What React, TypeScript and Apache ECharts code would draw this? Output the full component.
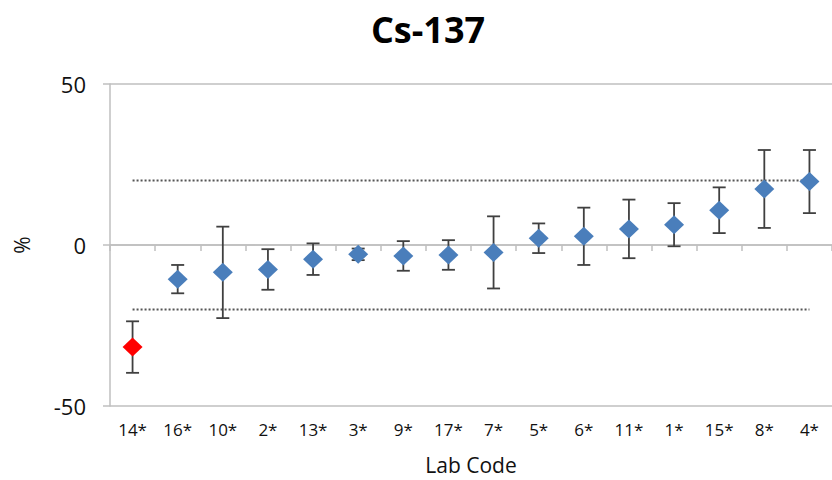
import React, { useEffect, useRef } from "react";
import * as echarts from "echarts";

const labCodes = ["14*", "16*", "10*", "2*", "13*", "3*", "9*", "17*", "7*", "5*", "6*", "11*", "1*", "15*", "8*", "4*"];
const deviations = [-31.7, -10.6, -8.5, -7.6, -4.4, -2.9, -3.4, -3.1, -2.3, 2.1, 2.7, 5.0, 6.3, 10.8, 17.4, 19.7];
const uncertainties = [8.0, 4.4, 14.2, 6.3, 4.9, 1.8, 4.6, 4.6, 11.2, 4.6, 8.9, 9.1, 6.7, 7.1, 12.1, 9.8];
const upperLimit = labCodes.map(() => 20);
const lowerLimit = labCodes.map(() => -20);
const yTicks = [-50, 0, 50];

const FONT = "'Open Sans', 'Noto Sans', sans-serif";

export default function App() {
  const ref = useRef<HTMLDivElement>(null);
  useEffect(() => {
    if (!ref.current) return;
    const chart = echarts.init(ref.current, undefined, { renderer: "svg" });
    const errData = labCodes.map((_, i) => [i, deviations[i] - uncertainties[i], deviations[i] + uncertainties[i]]);
    const pointData = deviations.map((v, i) => ({
      value: v,
      itemStyle: { color: v < -20 || v > 20 ? "#ff0000" : "#4a7ebb", opacity: 1 },
    }));
    chart.setOption({
      animation: false,
      backgroundColor: "#ffffff",
      title: {
        text: "Cs-137",
        left: 423,
        top: 6,
        textAlign: "center",
        textStyle: { fontFamily: FONT, fontSize: 36, fontWeight: "bold", color: "#000" },
      },
      grid: { left: 110, top: 84, width: 730, height: 322, containLabel: false },
      xAxis: {
        type: "category",
        data: labCodes,
        boundaryGap: true,
        name: "Lab Code",
        nameLocation: "middle",
        nameGap: 48,
        nameTextStyle: { fontFamily: FONT, fontSize: 21, color: "#111" },
        axisLine: { lineStyle: { color: "#bfbfbf", width: 1.5 } },
        axisTick: { show: true, length: 6, lineStyle: { color: "#bfbfbf", width: 1.5 } },
        axisLabel: { fontFamily: FONT, fontSize: 17, color: "#111", margin: 15, interval: 0 },
        splitLine: { show: false },
      },
      yAxis: {
        type: "value",
        min: yTicks[0],
        max: yTicks[yTicks.length - 1],
        interval: 50,
        name: "%",
        nameLocation: "middle",
        nameGap: 78,
        nameTextStyle: { fontFamily: FONT, fontSize: 21, color: "#111" },
        axisLine: { show: true, lineStyle: { color: "#bfbfbf", width: 1.5 } },
        axisTick: { show: true, length: 7, lineStyle: { color: "#bfbfbf", width: 1.5 } },
        axisLabel: { fontFamily: FONT, fontSize: 22, color: "#111", margin: 24 },
        splitLine: { show: true, lineStyle: { color: "#bfbfbf", width: 1.5 } },
      },
      series: [
        {
          type: "line",
          data: upperLimit,
          symbol: "none",
          silent: true,
          lineStyle: { color: "#555", width: 2, type: [2, 2] },
          z: 2,
        },
        {
          type: "line",
          data: lowerLimit,
          symbol: "none",
          silent: true,
          lineStyle: { color: "#555", width: 2, type: [2, 2] },
          z: 2,
        },
        {
          type: "custom",
          data: errData,
          z: 3,
          renderItem: (params: any, api: any) => {
            const x = api.value(0);
            const lo = api.coord([x, api.value(1)]);
            const hi = api.coord([x, api.value(2)]);
            const cap = 6.5;
            const style = { stroke: "#404040", lineWidth: 1.8 };
            return {
              type: "group",
              children: [
                { type: "line", shape: { x1: lo[0], y1: lo[1], x2: hi[0], y2: hi[1] }, style },
                { type: "line", shape: { x1: lo[0] - cap, y1: lo[1], x2: lo[0] + cap, y2: lo[1] }, style },
                { type: "line", shape: { x1: hi[0] - cap, y1: hi[1], x2: hi[0] + cap, y2: hi[1] }, style },
              ],
            };
          },
        },
        {
          type: "scatter",
          data: pointData,
          symbol: "diamond",
          symbolSize: [20, 19],
          z: 5,
        },
      ],
    });
    return () => chart.dispose();
  }, []);
  return <div ref={ref} style={{ width: 832, height: 480, position: "absolute", left: 0, top: 0 }} />;
}
